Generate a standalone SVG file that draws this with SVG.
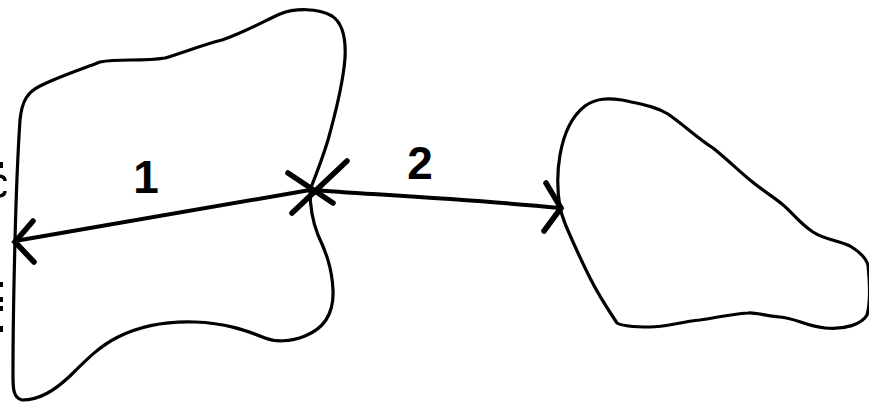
<svg xmlns="http://www.w3.org/2000/svg" width="869" height="404" viewBox="0 0 869 404">
<style>
.outline{fill:none;stroke:#000;stroke-width:3.2;stroke-linejoin:round;stroke-linecap:round}
.edge{fill:none;stroke:#000;stroke-width:4;stroke-linecap:round}
.head{fill:none;stroke:#000;stroke-width:5.5;stroke-linecap:round}
.lbl{font-family:"Liberation Sans",Arial,sans-serif;font-size:46px;font-weight:bold;fill:#000;text-anchor:middle}
.frag{fill:#000}
</style>
<rect width="869" height="404" fill="#fff"/>
<g id="margin-marks">
<rect class="frag" x="0" y="162" width="3" height="6"/>
<path d="M0 176 Q5 177 5 181 M0 196 Q5 195 5 191" fill="none" stroke="#000" stroke-width="3.5"/>
<rect class="frag" x="0" y="282" width="3" height="5"/>
<rect class="frag" x="0" y="297" width="3" height="5"/>
<rect class="frag" x="0" y="306" width="3" height="5"/>
<rect class="frag" x="0" y="326" width="3" height="6"/>
</g>
<g id="region-left">
<path class="outline" d="M15 240 C16 200 18 150 20 120 C22 100 28 92 40 86 C60 76 85 68 100 62 C120 58 140 62 165 58 C185 52 205 44 222 40 C245 32 262 22 280 14 C295 8 318 8 332 16 C344 24 346 40 345 58 C343 85 335 115 328 140 C322 160 316 175 310 190 C310 205 312 220 318 235 C326 252 332 268 333 290 C334 312 325 328 305 336 C290 342 275 342 265 338 C245 330 225 323 195 322 C165 321 140 326 118 337 C100 346 88 358 70 376 C55 390 40 400 22 400 C12 398 13 385 13 370 C13 330 14 280 15 240 Z"/>
</g>
<g id="region-right">
<path class="outline" d="M560 208 C557 190 557 172 560 155 C564 132 572 116 585 106 C596 98 608 98 622 100 C640 104 655 106 668 114 C685 126 700 140 713 148 C728 160 740 172 750 180 C762 190 772 196 782 204 C792 212 800 224 813 232 C825 240 838 240 850 246 C860 252 866 258 868 265 C870 285 870 305 867 315 C862 324 845 330 825 328 C805 326 795 318 780 317 C765 316 755 312 748 313 C730 314 715 318 700 320 C680 322 665 327 650 327 C635 327 622 326 617 323 C605 305 597 292 590 278 C580 258 572 240 566 226 C563 218 561 212 560 208 Z"/>
</g>
<g id="connectors">
<line class="edge" x1="15" y1="241" x2="310" y2="190"/>
<path class="edge" d="M310 190 C400 196 480 200 560 208"/>
<polyline class="head" points="33,221 15,242 34,262"/>
<polyline class="head" points="546,183 561,208 544,231"/>
<line class="head" x1="288" y1="173" x2="333" y2="203"/>
<line class="head" x1="347" y1="161" x2="292" y2="213"/>
</g>
<g id="labels">
<text class="lbl" x="146" y="193">1</text>
<text class="lbl" x="420" y="179">2</text>
</g>
</svg>
